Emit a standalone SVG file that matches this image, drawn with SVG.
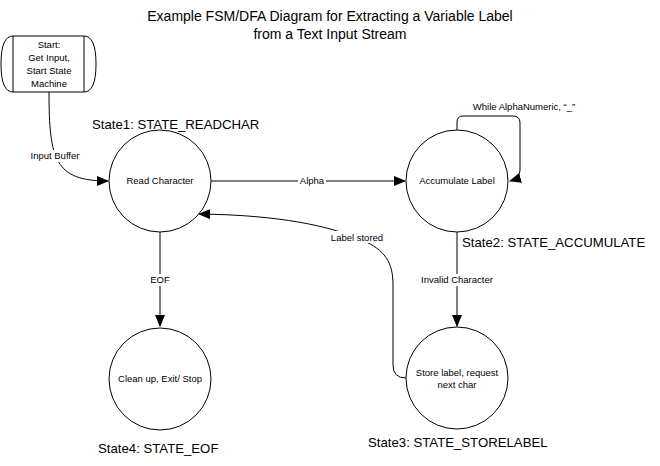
<svg xmlns="http://www.w3.org/2000/svg" width="660" height="466" viewBox="0 0 660 466">
<style>
text{font-family:"Liberation Sans",Arial,sans-serif;fill:#000}
.t{font-size:14px;text-anchor:middle}
.s{font-size:13.2px}
.n{font-size:9.5px;text-anchor:middle}
.l{font-size:9.5px;text-anchor:middle}
.c{fill:#fff;stroke:#000;stroke-width:1}
.e{fill:none;stroke:#000;stroke-width:1}
.bg{fill:#fff}
</style>
<defs>
<marker id="a" markerWidth="12" markerHeight="10" refX="11" refY="5" orient="auto" markerUnits="userSpaceOnUse">
<path d="M0,0 L12,5 L0,10 Z" fill="#000"/>
</marker>
</defs>
<rect width="660" height="466" fill="#fff"/>
<text class="t" x="330" y="21">Example FSM/DFA Diagram for Extracting a Variable Label</text>
<text class="t" x="330" y="39">from a Text Input Stream</text>
<g id="connectors">
<path class="e" d="M49,92 C49,160 55,181 108,181" marker-end="url(#a)"/>
<rect class="bg" x="26" y="150" width="58" height="12"/>
<text class="l" x="55" y="159">Input Buffer</text>
<path d="M211,181 H405" fill="none" stroke="#808080" stroke-width="2" marker-end="url(#a)"/>
<rect class="bg" x="298" y="175" width="28" height="12"/>
<text class="l" x="312" y="184">Alpha</text>
<path class="e" d="M457,130 V122 Q457,116 463,116 H513 Q520,116 520,123 V170 Q520,178 510,181" marker-end="url(#a)"/>
<text class="l" x="524" y="110">While AlphaNumeric, “_”</text>
<path class="e" d="M457,232 V326" marker-end="url(#a)"/>
<rect class="bg" x="420" y="274" width="74" height="12"/>
<text class="l" x="457" y="283">Invalid Character</text>
<path class="e" d="M160,232 V326" marker-end="url(#a)"/>
<rect class="bg" x="150" y="274" width="20" height="12"/>
<text class="l" x="160" y="283">EOF</text>
<path class="e" d="M406,378 Q393,378 393,365 V285 C393,262 385,250 362,240 C330,226 280,215 199,214" marker-end="url(#a)"/>
<rect class="bg" x="329" y="231" width="57" height="12"/>
<text class="l" x="357" y="241">Label stored</text>
</g>
<g id="start">
<path class="c" d="M13,36 H84 Q96,36 96,64 Q96,92 84,92 H13 Q1,92 1,64 Q1,36 13,36 Z"/>
<path class="e" d="M13,36 V92 M84,36 V92"/>
<text class="n" x="49" y="48">Start:</text>
<text class="n" x="49" y="61">Get Input,</text>
<text class="n" x="49" y="74">Start State</text>
<text class="n" x="49" y="87">Machine</text>
</g>
<g id="state1">
<circle class="c" cx="160" cy="181" r="51"/>
<text class="n" x="160" y="184">Read Character</text>
<text class="s" x="92" y="129">State1: STATE_READCHAR</text>
</g>
<g id="state2">
<circle class="c" cx="457" cy="181" r="51"/>
<text class="n" x="457" y="184">Accumulate Label</text>
<text class="s" x="462" y="247">State2: STATE_ACCUMULATE</text>
</g>
<g id="state3">
<circle class="c" cx="457" cy="378" r="51"/>
<text class="n" x="457" y="376">Store label, request</text>
<text class="n" x="457" y="388">next char</text>
<text class="s" x="368" y="447">State3: STATE_STORELABEL</text>
</g>
<g id="state4">
<circle class="c" cx="160" cy="379" r="51"/>
<text class="n" x="160" y="382">Clean up, Exit/ Stop</text>
<text class="s" x="98" y="453">State4: STATE_EOF</text>
</g>
</svg>
